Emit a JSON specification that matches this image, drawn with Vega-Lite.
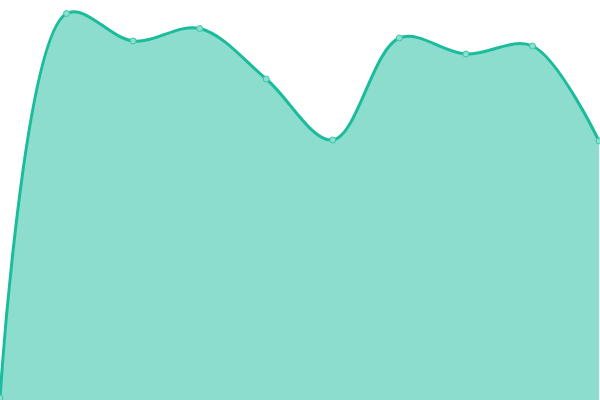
{
  "$schema": "https://vega.github.io/schema/vega-lite/v6.json",
  "width": 600,
  "height": 400,
  "autosize": {"type": "none"},
  "padding": 0,
  "background": "white",
  "config": {"view": {"stroke": null}},
  "data": {
    "values": [
      {"i": 0, "v": 2},
      {"i": 1, "v": 386.5},
      {"i": 2, "v": 359},
      {"i": 3, "v": 371.5},
      {"i": 4, "v": 321},
      {"i": 5, "v": 260},
      {"i": 6, "v": 362},
      {"i": 7, "v": 346},
      {"i": 8, "v": 354},
      {"i": 9, "v": 259}
    ]
  },
  "encoding": {
    "x": {"field": "i", "type": "quantitative", "axis": null, "scale": {"domain": [0, 9], "range": [0, 599], "nice": false}},
    "y": {"field": "v", "type": "quantitative", "axis": null, "scale": {"domain": [0, 400], "nice": false}}
  },
  "layer": [
    {"mark": {"type": "area", "interpolate": "catmull-rom", "color": "#1abc9c", "opacity": 0.5}},
    {"mark": {"type": "line", "interpolate": "catmull-rom", "color": "#1abc9c", "strokeWidth": 3}},
    {"mark": {"type": "point", "filled": true, "size": 36, "fill": "#8ae0cf", "stroke": "#3cc6a8", "strokeWidth": 1, "opacity": 1}}
  ]
}
